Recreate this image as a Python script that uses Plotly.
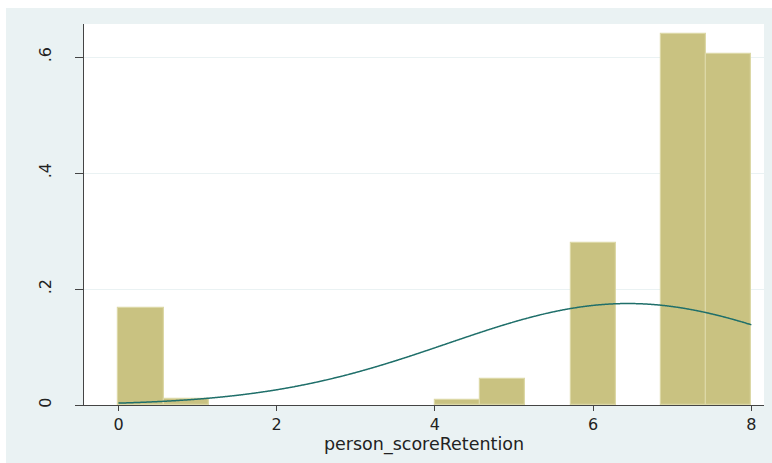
import numpy as np
import plotly.graph_objects as go

# Histogram of person_scoreRetention (density scale), 14 bins over [0, 8]
bin_start = 0.0
bin_width = 8.0 / 14
densities = [0.167, 0.010, 0.0, 0.0, 0.0, 0.0, 0.0,
             0.0086, 0.0443, 0.0, 0.280, 0.0, 0.640, 0.605]

# Normal density overlay parameters
norm_mean = 6.44
norm_sd = 2.28

x_ticks = [0, 2, 4, 6, 8]
y_ticks = [0, 0.2, 0.4, 0.6]
y_tick_text = ["0", ".2", ".4", ".6"]
x_title = "person_scoreRetention"

centers = [bin_start + (i + 0.5) * bin_width for i, d in enumerate(densities) if d > 0]
heights = [d for d in densities if d > 0]

xs = np.linspace(0, 8, 600)
ys = np.exp(-0.5 * ((xs - norm_mean) / norm_sd) ** 2) / (norm_sd * np.sqrt(2 * np.pi))

FONT = "DejaVu Sans, Arial, sans-serif"
OUTER = "#EAF2F3"

fig = go.Figure()
fig.add_trace(go.Bar(
    x=centers, y=heights, width=bin_width,
    marker=dict(color="#C9C281", line=dict(color="#DCD8A6", width=1.2)),
    showlegend=False, hoverinfo="skip",
))
fig.add_trace(go.Scatter(
    x=xs, y=ys, mode="lines",
    line=dict(color="#1F6F6A", width=1.5, shape="spline"),
    showlegend=False, hoverinfo="skip",
))

fig.update_layout(
    width=772, height=463,
    margin=dict(l=84, r=8, t=24, b=58),
    paper_bgcolor=OUTER,
    plot_bgcolor="white",
    font=dict(family=FONT, size=16, color="#222222"),
    bargap=0,
    xaxis=dict(
        range=[-0.436, 8.16],
        tickvals=x_ticks,
        ticks="outside", ticklen=5, tickcolor="#444444", tickwidth=1,
        showline=True, linecolor="#444444", linewidth=1,
        showgrid=False, zeroline=False,
        tickfont=dict(size=16),
        title=dict(text=x_title, font=dict(size=17.5), standoff=1),
    ),
    yaxis=dict(
        range=[0, 0.657],
        tickvals=y_ticks, ticktext=y_tick_text,
        tickangle=-90,
        ticks="outside", ticklen=8, tickcolor="#444444", tickwidth=1,
        ticklabelstandoff=18,
        showline=True, linecolor="#444444", linewidth=1,
        showgrid=True, gridcolor=OUTER, gridwidth=1,
        zeroline=False,
        tickfont=dict(size=16),
    ),
    shapes=[
        # thin white strips along the left and top page edges
        dict(type="rect", xref="paper", yref="paper",
             x0=-84 / 680, x1=-78 / 680, y0=-58 / 381, y1=(381 + 24) / 381,
             fillcolor="white", line_width=0, layer="above"),
        dict(type="rect", xref="paper", yref="paper",
             x0=-84 / 680, x1=(680 + 8) / 680, y0=(381 + 16) / 381, y1=(381 + 24) / 381,
             fillcolor="white", line_width=0, layer="above"),
    ],
)

fig.write_html("out.html")
